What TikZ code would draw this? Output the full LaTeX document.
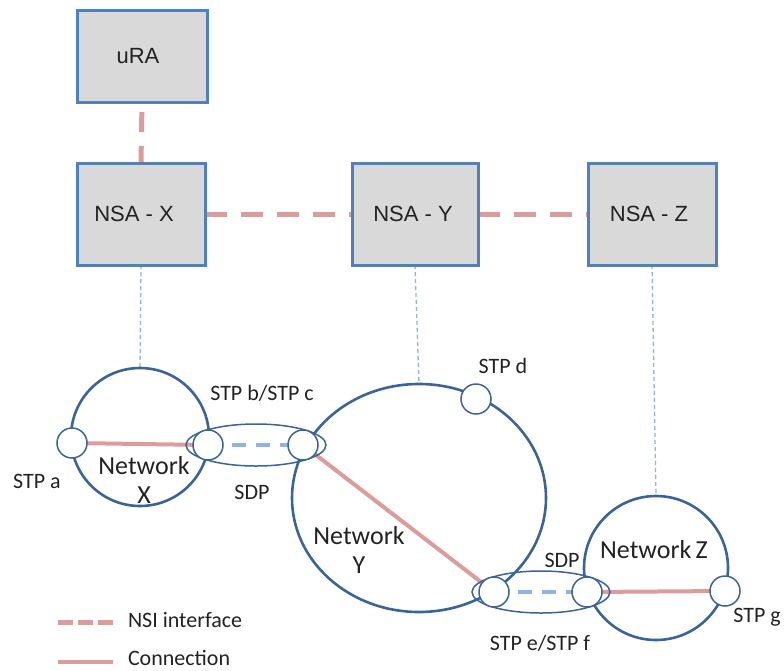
\documentclass[tikz,border=0pt]{standalone}
\usepackage{fontspec}
\setmainfont{Carlito}
\newfontfamily\arialf{Liberation Sans}
\usetikzlibrary{shapes.geometric}
\pgfdeclarelayer{bg}
\pgfsetlayers{bg,main}
\definecolor{boxfill}{HTML}{D9D9D9}
\definecolor{boxline}{HTML}{4F81BD}
\definecolor{netline}{HTML}{3B6496}
\definecolor{connred}{HTML}{DC9C9B}
\definecolor{sdpblue}{HTML}{8DB4E2}
\definecolor{txt}{HTML}{222222}
\begin{document}
\begin{tikzpicture}[x=1pt,y=-1pt,
  every node/.style={outer sep=0pt, inner sep=0pt, text=txt},
  nsabox/.style={draw=boxline, fill=boxfill, line width=3pt, minimum width=128pt, minimum height=102pt, font=\arialf\fontsize{22}{26}\selectfont},
  netc/.style={draw=netline, line width=2.6pt, circle},
  stp/.style={draw=netline, fill=white, line width=1.5pt, circle, minimum size=30pt},
  sdp/.style={draw=netline, line width=1.5pt, ellipse, minimum width=140pt, minimum height=42pt},
  nsi/.style={draw=connred, line width=5pt, dash pattern=on 22pt off 14pt},
  conn/.style={draw=connred, line width=4pt},
  link/.style={draw=sdpblue, line width=4pt, dash pattern=on 14pt off 10pt},
  ctl/.style={draw=sdpblue, line width=1.3pt, dash pattern=on 4pt off 3pt},
  lbl/.style={font=\fontsize{22}{26}\selectfont},
  netlbl/.style={font=\fontsize{26}{29}\selectfont, align=center}]

\useasboundingbox (0,0) rectangle (784,670);

% agent boxes
\node[nsabox, minimum width=130pt, minimum height=92pt] (ura) at (142,56) {uRA\hspace*{8pt}};
\node[nsabox] (nsax) at (141,214) {NSA - X\hspace*{14pt}};
\node[nsabox, minimum width=126pt] (nsay) at (415,214) {NSA - Y\hspace*{4pt}};
\node[nsabox] (nsaz) at (652,214) {NSA - Z\hspace*{6pt}};

% networks
\node[netc, minimum size=138pt] (netx) at (140,437) {};
\node[netc, ellipse, minimum width=254pt, minimum height=228pt] (nety) at (419,498) {};
\node[netc, minimum size=144pt] (netz) at (656,568) {};

% SDP ellipses
\node[sdp] (sdp1) at (256,445) {};
\node[sdp, minimum width=138pt] (sdp2) at (541,592) {};

% STPs
\node[stp] (stpa) at (72,443) {};
\node[stp] (stpb) at (208,445) {};
\node[stp] (stpc) at (303,445) {};
\node[stp] (stpd) at (476,399) {};
\node[stp] (stpe) at (494,592) {};
\node[stp] (stpf) at (587,592) {};
\node[stp] (stpg) at (725,591) {};

% labels
\node[lbl] (la) at (37,481) {STP a};
\node[lbl] (lbc) at (262,393) {STP b/STP c};
\node[lbl] (lsdp1) at (252,492) {SDP};
\node[lbl] (ld) at (503,366) {STP d};
\node[lbl] (lsdp2) at (562,560) {SDP};
\node[lbl] (lg) at (757,617) {STP g};
\node[lbl] (lef) at (540,643) {STP e/STP f};
\node[netlbl] (lnx) at (144,480) {Network\\X};
\node[netlbl] (lny) at (359,550) {Network\\Y};
\node[netlbl] (lnz) at (654,550) {Network\,Z};

% legend
\coordinate (l1a) at (58,622);
\coordinate (l1b) at (113,622);
\coordinate (l2a) at (58,662);
\coordinate (l2b) at (113,662);
\node[lbl, anchor=west] (lnsi) at (128,620) {NSI interface};
\node[lbl, anchor=west] (lconn) at (128,658) {Connection};

\begin{pgfonlayer}{bg}
  % NSI interfaces
  \draw[nsi, dash pattern=on 20pt off 14pt, dash phase=24pt] (ura.south) -- (nsax.north);
  \draw[nsi] (nsax.east) -- (nsay.west);
  \draw[nsi] (nsay.east) -- (nsaz.west);
  % control lines
  \draw[ctl] (nsax.south) -- (netx.north);
  \draw[ctl] (nsay.south) -- (nety.north);
  \draw[ctl] (nsaz.south) -- (netz.north);
  % connections
  \draw[conn] (stpa.center) -- (stpb.center);
  \draw[conn] (stpc.center) -- (stpe.center);
  \draw[conn] (stpf.center) -- (stpg.center);
  % SDP links
  \draw[link] (stpb.center) -- (stpc.center);
  \draw[link] (stpe.center) -- (stpf.center);
  % legend lines
  \draw[nsi, dash pattern=on 15pt off 5pt] (l1a) -- (l1b);
  \draw[conn] (l2a) -- (l2b);
\end{pgfonlayer}
\end{tikzpicture}
\end{document}
